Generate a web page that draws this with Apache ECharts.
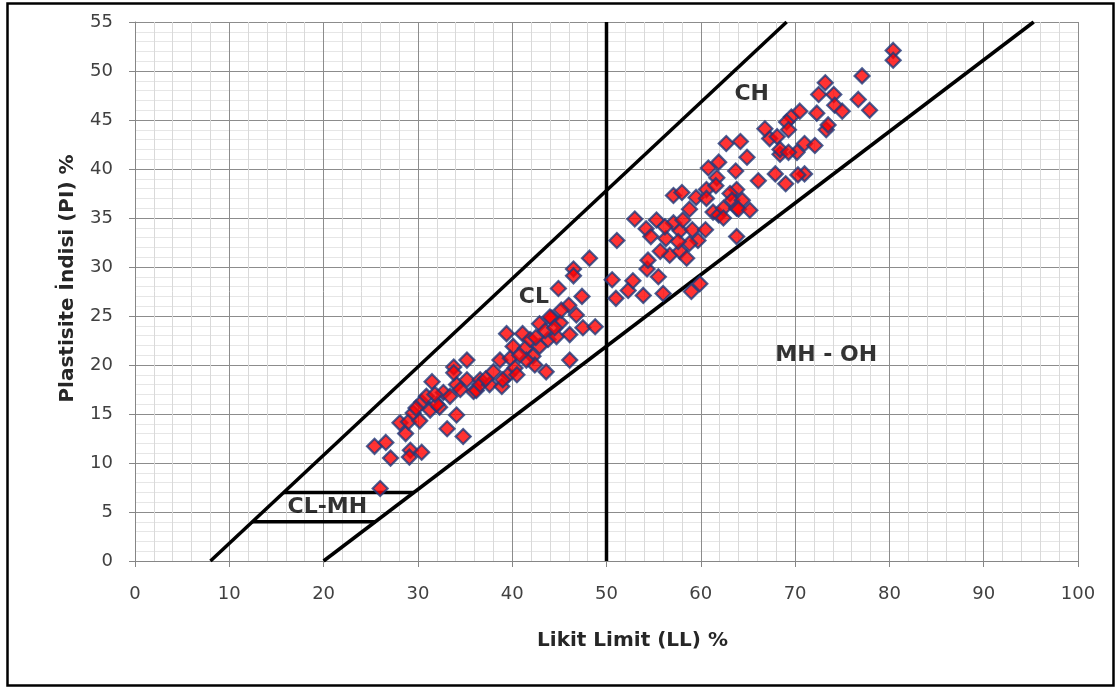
<!DOCTYPE html>
<html>
<head>
<meta charset="utf-8">
<title>Plastisite Kartı</title>
<script src="https://cdn.jsdelivr.net/npm/echarts@6/dist/echarts.min.js"></script>
<style>
  html, body { margin: 0; padding: 0; background: #ffffff; }
  #chart { width: 1120px; height: 689px; }
</style>
</head>
<body>
<div id="chart"></div>
<script>
// Axis ranges (Likit Limit on x, Plastisite İndisi on y)
const llAxis = { min: 0, max: 100, interval: 10 };
const piAxis = { min: 0, max: 55, interval: 5 };

// Sample results: [LL %, PI %]
const samples = [
  [26.0, 7.4], [25.4, 11.7], [26.6, 12.1], [27.1, 10.5], [29.2, 11.3], [29.1, 10.6],
  [30.4, 11.1], [28.7, 13.0], [28.1, 14.1], [29.0, 14.2], [29.5, 15.1], [30.2, 14.3],
  [30.4, 16.2], [31.3, 15.4], [30.9, 16.8], [31.5, 18.3], [32.3, 15.7], [32.7, 17.2],
  [33.1, 13.5], [34.1, 14.9], [34.8, 12.7], [33.8, 19.8], [35.2, 20.5], [34.1, 18.0],
  [35.2, 18.5], [33.4, 16.8], [33.8, 19.2], [35.9, 17.3], [36.6, 18.5], [34.5, 17.5],
  [32.0, 16.0], [31.8, 17.0], [29.8, 15.6],
  [36.2, 17.4], [36.6, 18.0], [37.6, 18.0], [38.0, 19.3], [38.9, 17.8], [38.7, 20.5],
  [39.6, 19.0], [39.8, 20.7], [40.3, 19.7], [40.5, 19.0], [37.2, 18.6], [39.4, 23.2],
  [41.1, 23.2], [40.1, 21.9], [41.4, 21.7], [41.9, 22.6], [42.9, 21.9], [42.2, 20.9],
  [42.4, 20.0], [43.6, 19.3], [46.1, 20.5], [42.9, 24.2], [43.8, 22.6], [44.7, 22.9],
  [44.2, 24.8], [45.1, 24.3], [46.1, 23.1], [46.0, 26.1], [46.8, 25.1], [47.5, 23.8],
  [48.8, 23.9], [44.9, 27.8], [47.4, 27.0], [46.5, 29.8], [46.5, 29.1], [48.2, 30.9],
  [45.2, 25.6], [44.0, 24.9], [43.5, 23.5], [41.5, 20.5], [44.5, 23.8], [42.5, 22.8],
  [40.8, 21.0], [39.0, 18.5],
  [51.1, 32.7], [50.6, 28.7], [51.0, 26.8], [52.3, 27.6], [52.8, 28.6], [53.9, 27.1],
  [54.3, 29.8], [54.4, 30.7], [55.5, 29.0], [56.0, 27.3], [59.0, 27.5], [59.9, 28.3],
  [53.0, 34.9], [54.2, 33.9], [54.7, 33.1], [55.3, 34.8], [56.3, 32.9], [56.7, 31.2],
  [57.1, 34.5], [57.8, 33.7], [58.1, 34.8], [57.8, 31.6], [58.5, 30.9], [59.1, 33.8],
  [59.7, 32.7], [58.8, 32.4], [55.7, 31.6], [57.1, 37.3], [58.0, 37.6], [58.8, 35.9],
  [59.5, 37.1], [60.6, 37.9], [60.5, 33.8], [56.2, 34.1], [57.6, 32.6],
  [60.8, 40.1], [61.9, 40.7], [61.7, 39.1], [61.6, 38.3], [60.6, 37.0], [61.3, 35.6],
  [61.9, 35.3], [62.4, 36.0], [62.4, 35.0], [63.8, 37.9], [63.1, 37.5], [63.3, 36.8],
  [64.4, 36.8], [63.8, 36.0], [64.0, 35.9], [65.2, 35.8], [63.8, 33.1], [63.7, 39.8],
  [64.9, 41.2], [66.1, 38.8], [67.9, 39.5], [62.7, 42.6], [64.2, 42.8], [67.3, 43.1],
  [68.4, 41.5], [69.6, 45.3], [70.5, 45.9], [72.3, 45.7], [69.1, 44.8], [66.8, 44.1],
  [69.3, 44.0], [73.3, 44.0], [73.5, 44.5], [68.1, 43.3], [71.0, 42.6], [72.1, 42.4],
  [68.4, 42.0], [70.2, 41.7], [69.3, 41.7], [71.0, 39.5], [70.3, 39.4], [69.0, 38.5],
  [80.4, 52.1], [80.4, 51.1], [77.1, 49.5], [76.7, 47.1], [77.9, 46.0], [73.2, 48.8],
  [72.5, 47.6], [74.1, 47.6], [74.2, 46.5], [75.0, 45.9]
];

// Classification boundaries
const uLine = [[8, 0], [69.1, 55]];          // PI = 0.9 (LL - 8)
const aLine = [[20, 0], [95.3, 55]];         // PI = 0.73 (LL - 20)
const llDivider = [[50, 0], [50, 55]];       // LL = 50
const clmhTop = [[15.8, 7], [29.6, 7]];
const clmhBottom = [[12.4, 4], [25.5, 4]];

// Zone names and where they sit: [text, LL, PI]
const zoneLabels = [
  ['CH', 65.4, 47.6],
  ['CL', 42.3, 26.9],
  ['MH - OH', 73.3, 21.0],
  ['CL-MH', 20.4, 5.5]
];

const xTitle = 'Likit Limit (LL) %';
const yTitle = 'Plastisite İndisi (PI) %';

const chart = echarts.init(document.getElementById('chart'), null, { renderer: 'canvas' });

const boundary = (data) => ({
  type: 'line',
  data: data,
  showSymbol: false,
  silent: true,
  animation: false,
  z: 3,
  lineStyle: { color: '#000000', width: 3.5, cap: 'butt' }
});

const axisText = '#404040';
const titleStyle = { fontFamily: 'DejaVu Sans', fontWeight: 'bold', fontSize: 20, color: '#262626' };

chart.setOption({
  backgroundColor: '#ffffff',
  animation: false,
  grid: { left: 135, right: 42, top: 22, bottom: 128, containLabel: false },
  xAxis: {
    type: 'value',
    min: llAxis.min, max: llAxis.max, interval: llAxis.interval,
    name: xTitle,
    nameLocation: 'middle',
    nameGap: 70,
    nameTextStyle: Object.assign({ padding: [0, 0, 0, 52] }, titleStyle),
    axisLine: { show: true, onZero: false, lineStyle: { color: '#868686', width: 1 } },
    axisTick: { show: true, inside: false, length: 6, lineStyle: { color: '#868686' } },
    axisLabel: { margin: 24, fontFamily: 'DejaVu Sans', fontSize: 18, color: axisText },
    splitLine: { show: true, lineStyle: { color: '#8c8c8c', width: 1 } },
    minorTick: { show: false, splitNumber: 5 },
    minorSplitLine: { show: true, lineStyle: { color: '#d9d9d9', width: 1 } }
  },
  yAxis: {
    type: 'value',
    min: piAxis.min, max: piAxis.max, interval: piAxis.interval,
    name: yTitle,
    nameLocation: 'middle',
    nameGap: 57,
    nameTextStyle: Object.assign({ padding: [0, 0, 0, 26] }, titleStyle),
    axisLine: { show: true, onZero: false, lineStyle: { color: '#868686', width: 1 } },
    axisTick: { show: true, inside: false, length: 6, lineStyle: { color: '#868686' } },
    axisLabel: { margin: 22, fontFamily: 'DejaVu Sans', fontSize: 18, color: axisText },
    splitLine: { show: true, lineStyle: { color: '#8c8c8c', width: 1 } },
    minorTick: { show: false, splitNumber: 5 },
    minorSplitLine: { show: true, lineStyle: { color: '#e6e6e6', width: 1 } }
  },
  graphic: [{
    type: 'rect',
    silent: true,
    shape: { x: 7.5, y: 3.5, width: 1106, height: 682 },
    style: { fill: 'none', stroke: '#000000', lineWidth: 2.5 },
    z: 100
  }],
  series: [
    boundary(uLine),
    boundary(aLine),
    boundary(llDivider),
    boundary(clmhTop),
    boundary(clmhBottom),
    {
      type: 'scatter',
      data: samples,
      symbol: 'diamond',
      symbolSize: 15,
      z: 5,
      itemStyle: { color: '#ff0000', borderColor: '#1f3a7a', borderWidth: 2.2 }
    },
    {
      type: 'scatter',
      silent: true,
      z: 6,
      symbolSize: 0,
      data: zoneLabels.map(z => ({ name: z[0], value: [z[1], z[2]] })),
      label: {
        show: true,
        position: 'inside',
        formatter: p => p.name,
        fontFamily: 'DejaVu Sans',
        fontWeight: 'bold',
        fontSize: 22,
        color: '#000000'
      }
    }
  ]
});
</script>
</body>
</html>
